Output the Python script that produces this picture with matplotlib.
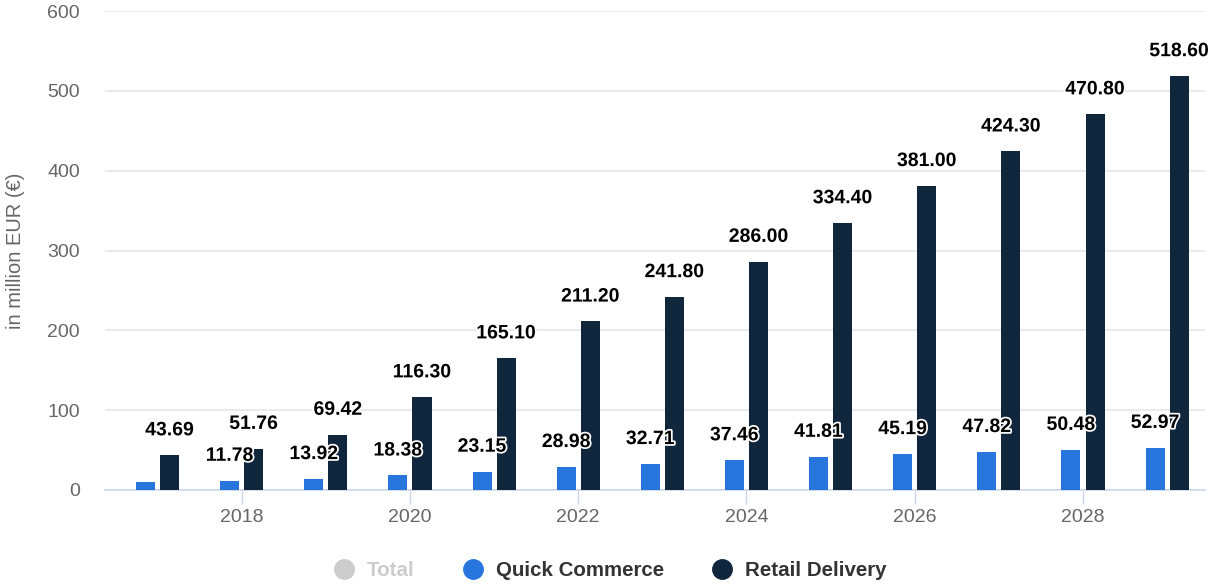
import matplotlib.pyplot as plt
import matplotlib.patheffects as pe
from matplotlib.lines import Line2D

plt.rcParams['font.family'] = ['Liberation Sans', 'DejaVu Sans']

# yearly revenue, million EUR
years = [2017, 2018, 2019, 2020, 2021, 2022, 2023, 2024, 2025, 2026, 2027, 2028, 2029]
quick_commerce = [10.0, 11.78, 13.92, 18.38, 23.15, 28.98, 32.71, 37.46, 41.81, 45.19, 47.82, 50.48, 52.97]
retail_delivery = [43.69, 51.76, 69.42, 116.30, 165.10, 211.20, 241.80, 286.00, 334.40, 381.00, 424.30, 470.80, 518.60]
# first quick commerce label is not shown (it collides with its neighbour)
show_qc_label = [False] + [True] * 12

blue = '#2876dd'
navy = '#0f263d'

fig = plt.figure(figsize=(12.08, 5.85), dpi=100)
ax = fig.add_axes([105 / 1208, 1 - 490 / 585, (1205 - 105) / 1208, (490 - 11) / 585])

w = 0.226
off = 0.143
xs_q = [y - off for y in years]
xs_r = [y + off for y in years]
ax.bar(xs_q, quick_commerce, width=w, color=blue, zorder=3)
ax.bar(xs_r, retail_delivery, width=w, color=navy, zorder=3)

halo = [pe.withStroke(linewidth=2.5, foreground='white')]
label_kw = dict(xytext=(0, 17.5), textcoords='offset points', ha='center', va='center',
                fontsize=14, fontweight='bold', color='black', zorder=5, path_effects=halo)
for x, v, show in zip(xs_q, quick_commerce, show_qc_label):
    if show:
        ax.annotate(f'{v:.2f}', (x, v), **label_kw)
for x, v in zip(xs_r, retail_delivery):
    ax.annotate(f'{v:.2f}', (x, v), **label_kw)

ax.set_xlim(2016.375, 2029.45)
ax.set_ylim(0, 600)
ax.set_yticks(range(0, 601, 100))
ax.set_xticks(range(2018, 2029, 2))
ax.grid(axis='y', color='#e6e6e6', linewidth=1.2, zorder=0)
for s in ['top', 'right', 'left']:
    ax.spines[s].set_visible(False)
ax.spines['bottom'].set_color('#ccd6eb')
ax.spines['bottom'].set_linewidth(1.2)
ax.tick_params(axis='y', length=0, pad=18, labelsize=14, labelcolor='#666666')
ax.tick_params(axis='x', length=10, width=1, color='#ccd6eb', pad=4, labelsize=14, labelcolor='#666666')
ax.set_ylabel('in million EUR (€)', fontsize=14.5, color='#666666')
ax.yaxis.set_label_coords(-80 / 1100, 0.5)

handles = [
    Line2D([], [], marker='o', linestyle='', markersize=14, color='#cccccc'),
    Line2D([], [], marker='o', linestyle='', markersize=14, color=blue),
    Line2D([], [], marker='o', linestyle='', markersize=14, color=navy),
]
leg = fig.legend(handles, ['Total', 'Quick Commerce', 'Retail Delivery'], loc='center',
                 bbox_to_anchor=(605 / 1208, 1 - 571 / 585), ncol=3, frameon=False,
                 prop={'size': 14.8, 'weight': 'bold'}, handletextpad=0.1, columnspacing=1.85)
colors = ['#cccccc', '#333333', '#333333']
for t, c in zip(leg.get_texts(), colors):
    t.set_color(c)

fig.savefig('out.png', dpi=100)
